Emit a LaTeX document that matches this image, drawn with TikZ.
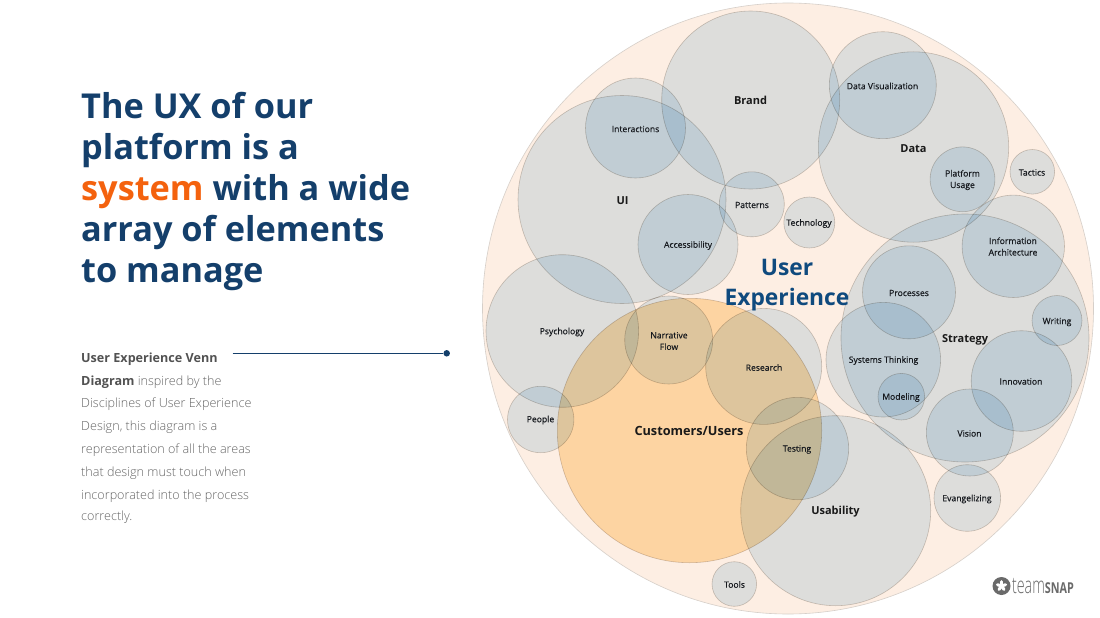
\documentclass[tikz,border=0pt]{standalone}
\usepackage{fontspec}
\setmainfont{Open Sans}
\newfontfamily\oslight{Open Sans Light}
\newfontfamily\osmed[FakeBold=0.3]{Open Sans}
\definecolor{navy}{HTML}{143F6B}
\definecolor{ueblue}{HTML}{0F4A7E}
\definecolor{sysorange}{HTML}{F4620E}
\definecolor{peach}{HTML}{FDEEE3}
\definecolor{venn}{RGB}{223,237,247}
\definecolor{cust}{RGB}{255,228,183}
\definecolor{edge}{HTML}{D2CCC6}
\definecolor{lbl}{HTML}{16191E}
\definecolor{logogray}{HTML}{6A6A6A}
\tikzset{
  vennc/.style={fill=venn,draw=edge,line width=.6pt,blend mode=multiply},
  custc/.style={fill=cust,draw=edge,line width=.6pt,blend mode=multiply},
  small/.style={font=\fontsize{8.6}{11.5}\selectfont\osmed,text=lbl,align=center,inner sep=0pt},
  big/.style={font=\fontsize{11}{14}\selectfont\bfseries,text=black!90,align=center,inner sep=0pt},
  titleline/.style={font=\fontsize{34.3}{41}\selectfont\bfseries,text=navy,anchor=base west,inner sep=0pt},
  bodyline/.style={font=\fontsize{12.6}{16}\selectfont\oslight,text=black!60,anchor=base west,inner sep=0pt},
}
\begin{document}
\begin{tikzpicture}[x=1pt,y=-1pt]
\useasboundingbox (0,0) rectangle (1100,618);
\fill[white] (0,0) rectangle (1100,618);
% outer
\path[fill=peach,draw=edge!90!peach,line width=.6pt] (788,308.5) circle (305.5pt);
% circles
\foreach \x/\y/\r in {
 750.7/100/89, 622/199.5/104, 635.5/128/50, 688/244.5/50, 751.8/204.3/32.5,
 809.3/222.5/25.5, 882.8/85.2/53.5, 913.5/147/95.2, 962.5/179.3/32.4,
 1032.3/171.8/22.3, 1013.3/246.3/51.2, 965/338/124, 909/292.3/46.5,
 883.3/359.7/57.3, 901.3/396.7/23.3, 1057/320.5/25, 1021.5/381/50.3,
 969.8/432.5/43.5, 967.3/498/33.3, 835.7/510.7/95, 797.5/448.5/51.2,
 763.7/366.4/58, 668.7/340/44, 562.3/331/76.3, 540.7/419.5/33.2, 734.3/584/22.3}
 {\path[vennc] (\x,\y) circle (\r pt);}
\path[custc] (689.5,430.5) circle (132.2pt);
% small labels
\node[small] (interactions) at (635.5,129) {Interactions};
\node[small] (accessibility) at (688,245.5) {Accessibility};
\node[small] (patterns) at (752,205) {Patterns};
\node[small] (technology) at (809,223.5) {Technology};
\node[small] (dataviz) at (882.5,86) {Data Visualization};
\node[small] (platform) at (962.5,180) {Platform\\Usage};
\node[small] (tactics) at (1032,172.5) {Tactics};
\node[small] (infoarch) at (1013,246.5) {Information\\Architecture};
\node[small] (processes) at (909,293) {Processes};
\node[small] (writing) at (1057,322) {Writing};
\node[small] (innovation) at (1021,381.5) {Innovation};
\node[small] (systems) at (883.5,360.5) {Systems Thinking};
\node[small] (modeling) at (901,397.5) {Modeling};
\node[small] (vision) at (969.5,433.5) {Vision};
\node[small] (evangelizing) at (967,499) {Evangelizing};
\node[small] (testing) at (797,449.5) {Testing};
\node[small] (research) at (764,367.5) {Research};
\node[small] (narrative) at (669,341) {Narrative\\Flow};
\node[small] (psychology) at (562,332) {Psychology};
\node[small] (people) at (540.5,420) {People};
\node[small] (tools) at (734.5,584.5) {Tools};
% big labels
\node[big] (brand) at (750.5,100.5) {Brand};
\node[big] (ui) at (622.5,200.5) {UI};
\node[big] (data) at (913.5,148.5) {Data};
\node[big] (strategy) at (965,340) {Strategy};
\node[big,font=\fontsize{12.7}{15}\selectfont\bfseries] (customers) at (689,431) {Customers/Users};
\node[big] (usability) at (835.5,512) {Usability};
\node[font=\fontsize{22.8}{30}\selectfont\bfseries,text=ueblue,align=center,inner sep=0pt] (ux) at (787,285.5) {User\\Experience};
% title
\node[titleline] (t1) at (81,118) {The UX of our};
\node[titleline] (t2) at (81,159) {platform is a};
\node[titleline] (t3) at (81,200) {\textcolor{sysorange}{system} with a wide};
\node[titleline] (t4) at (81,241) {array of elements};
\node[titleline] (t5) at (81,282) {to manage};
% body
\newcommand{\bb}[1]{{\fontspec{Open Sans}\bfseries\color{black!68}#1}}
\node[bodyline] (b1) at (81,362.3) {\bb{User Experience Venn}};
\node[bodyline] (b2) at (81,385) {\bb{Diagram} inspired by the};
\node[bodyline] (b3) at (81,407.5) {Disciplines of User Experience};
\node[bodyline] (b4) at (81,430.5) {Design, this diagram is a};
\node[bodyline] (b5) at (81,453.3) {representation of all the areas};
\node[bodyline] (b6) at (81,476) {that design must touch when};
\node[bodyline] (b7) at (81,499) {incorporated into the process};
\node[bodyline] (b8) at (81,520.8) {correctly.};
% connector
\coordinate (linestart) at (232.5,353.3);
\node[circle,fill=navy,inner sep=0pt,minimum size=6.5pt] (dot) at (446.7,353.3) {};
\draw[navy,line width=.8pt] (linestart) -- (dot);
% logo
\node[circle,fill=logogray,inner sep=0pt,minimum size=18pt] (logomark) at (1001.5,586) {};
\foreach \a in {90,162,234,306,18}
  {\draw[white,line width=3pt,line cap=round] (logomark.center) -- ++(\a:4.3pt);}
\node[font=\fontsize{23}{23}\selectfont\oslight,text=logogray,anchor=base west,inner sep=0pt,xscale=.62] (logoa) at (1012,593.3) {team};
\node[font=\fontsize{15}{15}\selectfont\bfseries,text=logogray,anchor=base west,inner sep=0pt,xscale=.72] (logob) at (1044.7,593.3) {SNAP};
\end{tikzpicture}
\end{document}
